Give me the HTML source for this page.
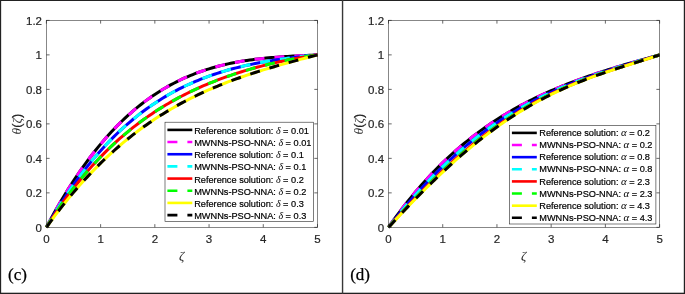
<!DOCTYPE html>
<html><head><meta charset="utf-8"><title>figure</title>
<style>
html,body{margin:0;padding:0;background:#fff;}
svg{display:block;}
.t{font-family:"Liberation Sans",sans-serif;font-size:11.5px;fill:#262626;stroke:#262626;stroke-width:0.2px;}
.l{font-family:"Liberation Sans",sans-serif;font-size:9.2px;fill:#000;stroke:#000;stroke-width:0.2px;}
.g{font-family:"Liberation Serif",serif;font-style:italic;stroke:none;}
.s{font-family:"Liberation Serif",serif;font-size:17px;fill:#000;stroke:#000;stroke-width:0.25px;}
</style></head><body>
<svg width="685" height="294" viewBox="0 0 685 294">
<rect x="0" y="0" width="685" height="294" fill="#ffffff"/>

<g fill="none" stroke-width="3.0" stroke-linejoin="round">
<path d="M46.40 227.35 L49.11 222.24 L51.82 217.23 L54.53 212.34 L57.24 207.54 L59.95 202.85 L62.67 198.27 L65.38 193.78 L68.09 189.40 L70.80 185.11 L73.51 180.92 L76.22 176.83 L78.93 172.83 L81.64 168.93 L84.35 165.12 L87.06 161.40 L89.78 157.77 L92.49 154.23 L95.20 150.77 L97.91 147.40 L100.62 144.12 L103.33 140.92 L106.04 137.81 L108.75 134.77 L111.46 131.81 L114.18 128.94 L116.89 126.14 L119.60 123.42 L122.31 120.77 L125.02 118.20 L127.73 115.70 L130.44 113.27 L133.15 110.91 L135.86 108.62 L138.57 106.40 L141.29 104.25 L144.00 102.16 L146.71 100.14 L149.42 98.18 L152.13 96.28 L154.84 94.44 L157.55 92.67 L160.26 90.95 L162.97 89.29 L165.68 87.69 L168.40 86.14 L171.11 84.64 L173.82 83.20 L176.53 81.82 L179.24 80.48 L181.95 79.19 L184.66 77.95 L187.37 76.76 L190.08 75.62 L192.79 74.52 L195.51 73.46 L198.22 72.45 L200.93 71.48 L203.64 70.55 L206.35 69.66 L209.06 68.82 L211.77 68.00 L214.48 67.23 L217.19 66.49 L219.90 65.78 L222.62 65.11 L225.33 64.48 L228.04 63.87 L230.75 63.29 L233.46 62.74 L236.17 62.23 L238.88 61.73 L241.59 61.27 L244.30 60.83 L247.01 60.41 L249.73 60.02 L252.44 59.65 L255.15 59.30 L257.86 58.98 L260.57 58.67 L263.28 58.38 L265.99 58.10 L268.70 57.84 L271.41 57.60 L274.12 57.37 L276.84 57.16 L279.55 56.96 L282.26 56.77 L284.97 56.59 L287.68 56.42 L290.39 56.25 L293.10 56.10 L295.81 55.95 L298.52 55.81 L301.23 55.67 L303.94 55.54 L306.66 55.41 L309.37 55.28 L312.08 55.15 L314.79 55.02 L317.50 54.89" stroke="#000000"/>
<path d="M46.40 227.35 L49.11 222.24 L51.82 217.23 L54.53 212.34 L57.24 207.54 L59.95 202.85 L62.67 198.27 L65.38 193.78 L68.09 189.40 L70.80 185.11 L73.51 180.92 L76.22 176.83 L78.93 172.83 L81.64 168.93 L84.35 165.12 L87.06 161.40 L89.78 157.77 L92.49 154.23 L95.20 150.77 L97.91 147.40 L100.62 144.12 L103.33 140.92 L106.04 137.81 L108.75 134.77 L111.46 131.81 L114.18 128.94 L116.89 126.14 L119.60 123.42 L122.31 120.77 L125.02 118.20 L127.73 115.70 L130.44 113.27 L133.15 110.91 L135.86 108.62 L138.57 106.40 L141.29 104.25 L144.00 102.16 L146.71 100.14 L149.42 98.18 L152.13 96.28 L154.84 94.44 L157.55 92.67 L160.26 90.95 L162.97 89.29 L165.68 87.69 L168.40 86.14 L171.11 84.64 L173.82 83.20 L176.53 81.82 L179.24 80.48 L181.95 79.19 L184.66 77.95 L187.37 76.76 L190.08 75.62 L192.79 74.52 L195.51 73.46 L198.22 72.45 L200.93 71.48 L203.64 70.55 L206.35 69.66 L209.06 68.82 L211.77 68.00 L214.48 67.23 L217.19 66.49 L219.90 65.78 L222.62 65.11 L225.33 64.48 L228.04 63.87 L230.75 63.29 L233.46 62.74 L236.17 62.23 L238.88 61.73 L241.59 61.27 L244.30 60.83 L247.01 60.41 L249.73 60.02 L252.44 59.65 L255.15 59.30 L257.86 58.98 L260.57 58.67 L263.28 58.38 L265.99 58.10 L268.70 57.84 L271.41 57.60 L274.12 57.37 L276.84 57.16 L279.55 56.96 L282.26 56.77 L284.97 56.59 L287.68 56.42 L290.39 56.25 L293.10 56.10 L295.81 55.95 L298.52 55.81 L301.23 55.67 L303.94 55.54 L306.66 55.41 L309.37 55.28 L312.08 55.15 L314.79 55.02 L317.50 54.89" stroke="#ff00ff" stroke-dasharray="10 10" stroke-dashoffset="0"/>
<path d="M46.40 227.35 L49.11 222.67 L51.82 218.09 L54.53 213.60 L57.24 209.21 L59.95 204.91 L62.67 200.70 L65.38 196.58 L68.09 192.55 L70.80 188.60 L73.51 184.75 L76.22 180.98 L78.93 177.29 L81.64 173.69 L84.35 170.16 L87.06 166.72 L89.78 163.35 L92.49 160.07 L95.20 156.86 L97.91 153.72 L100.62 150.66 L103.33 147.67 L106.04 144.75 L108.75 141.90 L111.46 139.13 L114.18 136.42 L116.89 133.77 L119.60 131.20 L122.31 128.68 L125.02 126.24 L127.73 123.85 L130.44 121.52 L133.15 119.26 L135.86 117.05 L138.57 114.91 L141.29 112.81 L144.00 110.78 L146.71 108.80 L149.42 106.87 L152.13 105.00 L154.84 103.18 L157.55 101.41 L160.26 99.69 L162.97 98.01 L165.68 96.39 L168.40 94.81 L171.11 93.28 L173.82 91.79 L176.53 90.35 L179.24 88.95 L181.95 87.59 L184.66 86.27 L187.37 84.99 L190.08 83.76 L192.79 82.56 L195.51 81.39 L198.22 80.27 L200.93 79.18 L203.64 78.12 L206.35 77.10 L209.06 76.11 L211.77 75.15 L214.48 74.23 L217.19 73.33 L219.90 72.47 L222.62 71.63 L225.33 70.83 L228.04 70.04 L230.75 69.29 L233.46 68.56 L236.17 67.86 L238.88 67.18 L241.59 66.52 L244.30 65.89 L247.01 65.28 L249.73 64.69 L252.44 64.12 L255.15 63.57 L257.86 63.04 L260.57 62.53 L263.28 62.03 L265.99 61.55 L268.70 61.09 L271.41 60.65 L274.12 60.22 L276.84 59.80 L279.55 59.40 L282.26 59.01 L284.97 58.64 L287.68 58.27 L290.39 57.92 L293.10 57.58 L295.81 57.24 L298.52 56.92 L301.23 56.61 L303.94 56.30 L306.66 56.01 L309.37 55.72 L312.08 55.44 L314.79 55.16 L317.50 54.89" stroke="#0000ff"/>
<path d="M46.40 227.35 L49.11 222.67 L51.82 218.09 L54.53 213.60 L57.24 209.21 L59.95 204.91 L62.67 200.70 L65.38 196.58 L68.09 192.55 L70.80 188.60 L73.51 184.75 L76.22 180.98 L78.93 177.29 L81.64 173.69 L84.35 170.16 L87.06 166.72 L89.78 163.35 L92.49 160.07 L95.20 156.86 L97.91 153.72 L100.62 150.66 L103.33 147.67 L106.04 144.75 L108.75 141.90 L111.46 139.13 L114.18 136.42 L116.89 133.77 L119.60 131.20 L122.31 128.68 L125.02 126.24 L127.73 123.85 L130.44 121.52 L133.15 119.26 L135.86 117.05 L138.57 114.91 L141.29 112.81 L144.00 110.78 L146.71 108.80 L149.42 106.87 L152.13 105.00 L154.84 103.18 L157.55 101.41 L160.26 99.69 L162.97 98.01 L165.68 96.39 L168.40 94.81 L171.11 93.28 L173.82 91.79 L176.53 90.35 L179.24 88.95 L181.95 87.59 L184.66 86.27 L187.37 84.99 L190.08 83.76 L192.79 82.56 L195.51 81.39 L198.22 80.27 L200.93 79.18 L203.64 78.12 L206.35 77.10 L209.06 76.11 L211.77 75.15 L214.48 74.23 L217.19 73.33 L219.90 72.47 L222.62 71.63 L225.33 70.83 L228.04 70.04 L230.75 69.29 L233.46 68.56 L236.17 67.86 L238.88 67.18 L241.59 66.52 L244.30 65.89 L247.01 65.28 L249.73 64.69 L252.44 64.12 L255.15 63.57 L257.86 63.04 L260.57 62.53 L263.28 62.03 L265.99 61.55 L268.70 61.09 L271.41 60.65 L274.12 60.22 L276.84 59.80 L279.55 59.40 L282.26 59.01 L284.97 58.64 L287.68 58.27 L290.39 57.92 L293.10 57.58 L295.81 57.24 L298.52 56.92 L301.23 56.61 L303.94 56.30 L306.66 56.01 L309.37 55.72 L312.08 55.44 L314.79 55.16 L317.50 54.89" stroke="#00ffff" stroke-dasharray="10 10" stroke-dashoffset="0"/>
<path d="M46.40 227.35 L49.11 223.06 L51.82 218.86 L54.53 214.75 L57.24 210.72 L59.95 206.78 L62.67 202.93 L65.38 199.15 L68.09 195.46 L70.80 191.84 L73.51 188.31 L76.22 184.84 L78.93 181.46 L81.64 178.15 L84.35 174.90 L87.06 171.74 L89.78 168.63 L92.49 165.60 L95.20 162.64 L97.91 159.74 L100.62 156.90 L103.33 154.13 L106.04 151.42 L108.75 148.77 L111.46 146.17 L114.18 143.64 L116.89 141.16 L119.60 138.74 L122.31 136.38 L125.02 134.06 L127.73 131.80 L130.44 129.59 L133.15 127.43 L135.86 125.32 L138.57 123.26 L141.29 121.25 L144.00 119.28 L146.71 117.35 L149.42 115.47 L152.13 113.64 L154.84 111.84 L157.55 110.09 L160.26 108.37 L162.97 106.70 L165.68 105.06 L168.40 103.46 L171.11 101.90 L173.82 100.38 L176.53 98.89 L179.24 97.43 L181.95 96.01 L184.66 94.62 L187.37 93.26 L190.08 91.93 L192.79 90.63 L195.51 89.37 L198.22 88.13 L200.93 86.92 L203.64 85.74 L206.35 84.58 L209.06 83.45 L211.77 82.35 L214.48 81.27 L217.19 80.22 L219.90 79.19 L222.62 78.19 L225.33 77.21 L228.04 76.25 L230.75 75.31 L233.46 74.40 L236.17 73.50 L238.88 72.63 L241.59 71.78 L244.30 70.94 L247.01 70.13 L249.73 69.34 L252.44 68.56 L255.15 67.80 L257.86 67.06 L260.57 66.34 L263.28 65.64 L265.99 64.95 L268.70 64.28 L271.41 63.62 L274.12 62.99 L276.84 62.37 L279.55 61.76 L282.26 61.17 L284.97 60.60 L287.68 60.04 L290.39 59.50 L293.10 58.97 L295.81 58.46 L298.52 57.96 L301.23 57.48 L303.94 57.01 L306.66 56.55 L309.37 56.12 L312.08 55.69 L314.79 55.29 L317.50 54.89" stroke="#ff0000"/>
<path d="M46.40 227.35 L49.11 223.06 L51.82 218.86 L54.53 214.75 L57.24 210.72 L59.95 206.78 L62.67 202.93 L65.38 199.15 L68.09 195.46 L70.80 191.84 L73.51 188.31 L76.22 184.84 L78.93 181.46 L81.64 178.15 L84.35 174.90 L87.06 171.74 L89.78 168.63 L92.49 165.60 L95.20 162.64 L97.91 159.74 L100.62 156.90 L103.33 154.13 L106.04 151.42 L108.75 148.77 L111.46 146.17 L114.18 143.64 L116.89 141.16 L119.60 138.74 L122.31 136.38 L125.02 134.06 L127.73 131.80 L130.44 129.59 L133.15 127.43 L135.86 125.32 L138.57 123.26 L141.29 121.25 L144.00 119.28 L146.71 117.35 L149.42 115.47 L152.13 113.64 L154.84 111.84 L157.55 110.09 L160.26 108.37 L162.97 106.70 L165.68 105.06 L168.40 103.46 L171.11 101.90 L173.82 100.38 L176.53 98.89 L179.24 97.43 L181.95 96.01 L184.66 94.62 L187.37 93.26 L190.08 91.93 L192.79 90.63 L195.51 89.37 L198.22 88.13 L200.93 86.92 L203.64 85.74 L206.35 84.58 L209.06 83.45 L211.77 82.35 L214.48 81.27 L217.19 80.22 L219.90 79.19 L222.62 78.19 L225.33 77.21 L228.04 76.25 L230.75 75.31 L233.46 74.40 L236.17 73.50 L238.88 72.63 L241.59 71.78 L244.30 70.94 L247.01 70.13 L249.73 69.34 L252.44 68.56 L255.15 67.80 L257.86 67.06 L260.57 66.34 L263.28 65.64 L265.99 64.95 L268.70 64.28 L271.41 63.62 L274.12 62.99 L276.84 62.37 L279.55 61.76 L282.26 61.17 L284.97 60.60 L287.68 60.04 L290.39 59.50 L293.10 58.97 L295.81 58.46 L298.52 57.96 L301.23 57.48 L303.94 57.01 L306.66 56.55 L309.37 56.12 L312.08 55.69 L314.79 55.29 L317.50 54.89" stroke="#00ff00" stroke-dasharray="10 10" stroke-dashoffset="0"/>
<path d="M46.40 227.35 L49.11 223.58 L51.82 219.87 L54.53 216.22 L57.24 212.64 L59.95 209.11 L62.67 205.65 L65.38 202.25 L68.09 198.91 L70.80 195.62 L73.51 192.40 L76.22 189.23 L78.93 186.12 L81.64 183.06 L84.35 180.06 L87.06 177.12 L89.78 174.22 L92.49 171.38 L95.20 168.60 L97.91 165.86 L100.62 163.18 L103.33 160.54 L106.04 157.96 L108.75 155.42 L111.46 152.94 L114.18 150.50 L116.89 148.10 L119.60 145.75 L122.31 143.45 L125.02 141.19 L127.73 138.98 L130.44 136.81 L133.15 134.68 L135.86 132.60 L138.57 130.55 L141.29 128.55 L144.00 126.59 L146.71 124.66 L149.42 122.78 L152.13 120.93 L154.84 119.12 L157.55 117.34 L160.26 115.61 L162.97 113.90 L165.68 112.24 L168.40 110.60 L171.11 109.00 L173.82 107.43 L176.53 105.90 L179.24 104.39 L181.95 102.92 L184.66 101.48 L187.37 100.06 L190.08 98.68 L192.79 97.32 L195.51 95.99 L198.22 94.69 L200.93 93.42 L203.64 92.17 L206.35 90.94 L209.06 89.74 L211.77 88.56 L214.48 87.41 L217.19 86.28 L219.90 85.17 L222.62 84.08 L225.33 83.02 L228.04 81.97 L230.75 80.94 L233.46 79.94 L236.17 78.95 L238.88 77.97 L241.59 77.02 L244.30 76.08 L247.01 75.16 L249.73 74.25 L252.44 73.36 L255.15 72.48 L257.86 71.62 L260.57 70.77 L263.28 69.93 L265.99 69.10 L268.70 68.29 L271.41 67.48 L274.12 66.69 L276.84 65.90 L279.55 65.13 L282.26 64.36 L284.97 63.60 L287.68 62.85 L290.39 62.10 L293.10 61.36 L295.81 60.63 L298.52 59.90 L301.23 59.17 L303.94 58.45 L306.66 57.74 L309.37 57.02 L312.08 56.31 L314.79 55.60 L317.50 54.89" stroke="#ffff00"/>
<path d="M46.40 227.35 L49.11 223.58 L51.82 219.87 L54.53 216.22 L57.24 212.64 L59.95 209.11 L62.67 205.65 L65.38 202.25 L68.09 198.91 L70.80 195.62 L73.51 192.40 L76.22 189.23 L78.93 186.12 L81.64 183.06 L84.35 180.06 L87.06 177.12 L89.78 174.22 L92.49 171.38 L95.20 168.60 L97.91 165.86 L100.62 163.18 L103.33 160.54 L106.04 157.96 L108.75 155.42 L111.46 152.94 L114.18 150.50 L116.89 148.10 L119.60 145.75 L122.31 143.45 L125.02 141.19 L127.73 138.98 L130.44 136.81 L133.15 134.68 L135.86 132.60 L138.57 130.55 L141.29 128.55 L144.00 126.59 L146.71 124.66 L149.42 122.78 L152.13 120.93 L154.84 119.12 L157.55 117.34 L160.26 115.61 L162.97 113.90 L165.68 112.24 L168.40 110.60 L171.11 109.00 L173.82 107.43 L176.53 105.90 L179.24 104.39 L181.95 102.92 L184.66 101.48 L187.37 100.06 L190.08 98.68 L192.79 97.32 L195.51 95.99 L198.22 94.69 L200.93 93.42 L203.64 92.17 L206.35 90.94 L209.06 89.74 L211.77 88.56 L214.48 87.41 L217.19 86.28 L219.90 85.17 L222.62 84.08 L225.33 83.02 L228.04 81.97 L230.75 80.94 L233.46 79.94 L236.17 78.95 L238.88 77.97 L241.59 77.02 L244.30 76.08 L247.01 75.16 L249.73 74.25 L252.44 73.36 L255.15 72.48 L257.86 71.62 L260.57 70.77 L263.28 69.93 L265.99 69.10 L268.70 68.29 L271.41 67.48 L274.12 66.69 L276.84 65.90 L279.55 65.13 L282.26 64.36 L284.97 63.60 L287.68 62.85 L290.39 62.10 L293.10 61.36 L295.81 60.63 L298.52 59.90 L301.23 59.17 L303.94 58.45 L306.66 57.74 L309.37 57.02 L312.08 56.31 L314.79 55.60 L317.50 54.89" stroke="#000000" stroke-dasharray="10 10" stroke-dashoffset="0"/>
</g>
<g stroke="#262626" stroke-width="0.7" fill="none">
<rect x="46.4" y="20.4" width="271.10" height="206.95" stroke-width="0.55"/>
<path d="M46.40 227.35 v-3.2 M46.40 20.4 v3.2"/>
<path d="M100.62 227.35 v-3.2 M100.62 20.4 v3.2"/>
<path d="M154.84 227.35 v-3.2 M154.84 20.4 v3.2"/>
<path d="M209.06 227.35 v-3.2 M209.06 20.4 v3.2"/>
<path d="M263.28 227.35 v-3.2 M263.28 20.4 v3.2"/>
<path d="M317.50 227.35 v-3.2 M317.50 20.4 v3.2"/>
<path d="M46.4 227.35 h3.2 M317.5 227.35 h-3.2"/>
<path d="M46.4 192.86 h3.2 M317.5 192.86 h-3.2"/>
<path d="M46.4 158.37 h3.2 M317.5 158.37 h-3.2"/>
<path d="M46.4 123.88 h3.2 M317.5 123.88 h-3.2"/>
<path d="M46.4 89.38 h3.2 M317.5 89.38 h-3.2"/>
<path d="M46.4 54.89 h3.2 M317.5 54.89 h-3.2"/>
<path d="M46.4 20.40 h3.2 M317.5 20.40 h-3.2"/>
</g>
<text class="t" x="46.40" y="242.8" text-anchor="middle">0</text>
<text class="t" x="100.62" y="242.8" text-anchor="middle">1</text>
<text class="t" x="154.84" y="242.8" text-anchor="middle">2</text>
<text class="t" x="209.06" y="242.8" text-anchor="middle">3</text>
<text class="t" x="263.28" y="242.8" text-anchor="middle">4</text>
<text class="t" x="317.50" y="242.8" text-anchor="middle">5</text>
<text class="t" x="42.00" y="231.55" text-anchor="end">0</text>
<text class="t" x="42.00" y="197.06" text-anchor="end">0.2</text>
<text class="t" x="42.00" y="162.57" text-anchor="end">0.4</text>
<text class="t" x="42.00" y="128.08" text-anchor="end">0.6</text>
<text class="t" x="42.00" y="93.58" text-anchor="end">0.8</text>
<text class="t" x="42.00" y="59.09" text-anchor="end">1</text>
<text class="t" x="42.00" y="24.60" text-anchor="end">1.2</text>
<text class="g" x="181.65" y="260.4" font-size="13" fill="#262626" text-anchor="middle">ζ</text>
<text class="t" transform="translate(21.20 124.08) rotate(-90)" text-anchor="middle" style="font-size:13px"><tspan class="g" font-size="13.5">θ</tspan>(<tspan class="g" font-size="13.5">ζ</tspan>)</text>
<g fill="none" stroke-width="3.0" stroke-linejoin="round">
<path d="M388.50 227.35 L391.21 223.48 L393.92 219.68 L396.63 215.96 L399.34 212.31 L402.06 208.73 L404.77 205.21 L407.48 201.77 L410.19 198.39 L412.90 195.08 L415.61 191.83 L418.32 188.65 L421.03 185.52 L423.74 182.46 L426.45 179.46 L429.17 176.52 L431.88 173.64 L434.59 170.82 L437.30 168.05 L440.01 165.34 L442.72 162.68 L445.43 160.07 L448.14 157.52 L450.85 155.02 L453.56 152.57 L456.27 150.17 L458.99 147.82 L461.70 145.51 L464.41 143.26 L467.12 141.04 L469.83 138.88 L472.54 136.76 L475.25 134.68 L477.96 132.64 L480.67 130.65 L483.38 128.69 L486.10 126.78 L488.81 124.90 L491.52 123.06 L494.23 121.26 L496.94 119.50 L499.65 117.77 L502.36 116.08 L505.07 114.42 L507.78 112.79 L510.50 111.20 L513.21 109.64 L515.92 108.11 L518.63 106.61 L521.34 105.14 L524.05 103.70 L526.76 102.28 L529.47 100.90 L532.18 99.54 L534.89 98.21 L537.61 96.90 L540.32 95.61 L543.03 94.36 L545.74 93.12 L548.45 91.91 L551.16 90.72 L553.87 89.55 L556.58 88.40 L559.29 87.27 L562.00 86.16 L564.72 85.07 L567.43 84.00 L570.14 82.94 L572.85 81.91 L575.56 80.89 L578.27 79.88 L580.98 78.90 L583.69 77.92 L586.40 76.96 L589.11 76.02 L591.83 75.09 L594.54 74.17 L597.25 73.27 L599.96 72.37 L602.67 71.49 L605.38 70.62 L608.09 69.76 L610.80 68.91 L613.51 68.07 L616.22 67.24 L618.94 66.42 L621.65 65.60 L624.36 64.80 L627.07 64.00 L629.78 63.21 L632.49 62.43 L635.20 61.65 L637.91 60.88 L640.62 60.11 L643.33 59.35 L646.05 58.60 L648.76 57.85 L651.47 57.10 L654.18 56.36 L656.89 55.63 L659.60 54.89" stroke="#000000"/>
<path d="M388.50 227.35 L391.21 223.48 L393.92 219.68 L396.63 215.96 L399.34 212.31 L402.06 208.73 L404.77 205.21 L407.48 201.77 L410.19 198.39 L412.90 195.08 L415.61 191.83 L418.32 188.65 L421.03 185.52 L423.74 182.46 L426.45 179.46 L429.17 176.52 L431.88 173.64 L434.59 170.82 L437.30 168.05 L440.01 165.34 L442.72 162.68 L445.43 160.07 L448.14 157.52 L450.85 155.02 L453.56 152.57 L456.27 150.17 L458.99 147.82 L461.70 145.51 L464.41 143.26 L467.12 141.04 L469.83 138.88 L472.54 136.76 L475.25 134.68 L477.96 132.64 L480.67 130.65 L483.38 128.69 L486.10 126.78 L488.81 124.90 L491.52 123.06 L494.23 121.26 L496.94 119.50 L499.65 117.77 L502.36 116.08 L505.07 114.42 L507.78 112.79 L510.50 111.20 L513.21 109.64 L515.92 108.11 L518.63 106.61 L521.34 105.14 L524.05 103.70 L526.76 102.28 L529.47 100.90 L532.18 99.54 L534.89 98.21 L537.61 96.90 L540.32 95.61 L543.03 94.36 L545.74 93.12 L548.45 91.91 L551.16 90.72 L553.87 89.55 L556.58 88.40 L559.29 87.27 L562.00 86.16 L564.72 85.07 L567.43 84.00 L570.14 82.94 L572.85 81.91 L575.56 80.89 L578.27 79.88 L580.98 78.90 L583.69 77.92 L586.40 76.96 L589.11 76.02 L591.83 75.09 L594.54 74.17 L597.25 73.27 L599.96 72.37 L602.67 71.49 L605.38 70.62 L608.09 69.76 L610.80 68.91 L613.51 68.07 L616.22 67.24 L618.94 66.42 L621.65 65.60 L624.36 64.80 L627.07 64.00 L629.78 63.21 L632.49 62.43 L635.20 61.65 L637.91 60.88 L640.62 60.11 L643.33 59.35 L646.05 58.60 L648.76 57.85 L651.47 57.10 L654.18 56.36 L656.89 55.63 L659.60 54.89" stroke="#ff00ff" stroke-dasharray="10 10" stroke-dashoffset="0"/>
<path d="M388.50 227.35 L391.21 223.88 L393.92 220.45 L396.63 217.07 L399.34 213.74 L402.06 210.46 L404.77 207.22 L407.48 204.03 L410.19 200.88 L412.90 197.78 L415.61 194.73 L418.32 191.72 L421.03 188.75 L423.74 185.84 L426.45 182.96 L429.17 180.13 L431.88 177.34 L434.59 174.60 L437.30 171.90 L440.01 169.24 L442.72 166.63 L445.43 164.05 L448.14 161.52 L450.85 159.03 L453.56 156.58 L456.27 154.17 L458.99 151.81 L461.70 149.48 L464.41 147.19 L467.12 144.94 L469.83 142.73 L472.54 140.56 L475.25 138.42 L477.96 136.33 L480.67 134.27 L483.38 132.25 L486.10 130.26 L488.81 128.31 L491.52 126.39 L494.23 124.52 L496.94 122.67 L499.65 120.86 L502.36 119.08 L505.07 117.34 L507.78 115.63 L510.50 113.95 L513.21 112.30 L515.92 110.68 L518.63 109.10 L521.34 107.54 L524.05 106.02 L526.76 104.52 L529.47 103.05 L532.18 101.61 L534.89 100.20 L537.61 98.82 L540.32 97.46 L543.03 96.13 L545.74 94.82 L548.45 93.54 L551.16 92.28 L553.87 91.05 L556.58 89.84 L559.29 88.65 L562.00 87.49 L564.72 86.34 L567.43 85.22 L570.14 84.12 L572.85 83.04 L575.56 81.97 L578.27 80.93 L580.98 79.90 L583.69 78.89 L586.40 77.90 L589.11 76.92 L591.83 75.96 L594.54 75.01 L597.25 74.08 L599.96 73.16 L602.67 72.25 L605.38 71.36 L608.09 70.47 L610.80 69.60 L613.51 68.74 L616.22 67.88 L618.94 67.04 L621.65 66.20 L624.36 65.37 L627.07 64.55 L629.78 63.73 L632.49 62.92 L635.20 62.11 L637.91 61.30 L640.62 60.50 L643.33 59.70 L646.05 58.90 L648.76 58.10 L651.47 57.30 L654.18 56.50 L656.89 55.70 L659.60 54.89" stroke="#0000ff"/>
<path d="M388.50 227.35 L391.21 223.88 L393.92 220.45 L396.63 217.07 L399.34 213.74 L402.06 210.46 L404.77 207.22 L407.48 204.03 L410.19 200.88 L412.90 197.78 L415.61 194.73 L418.32 191.72 L421.03 188.75 L423.74 185.84 L426.45 182.96 L429.17 180.13 L431.88 177.34 L434.59 174.60 L437.30 171.90 L440.01 169.24 L442.72 166.63 L445.43 164.05 L448.14 161.52 L450.85 159.03 L453.56 156.58 L456.27 154.17 L458.99 151.81 L461.70 149.48 L464.41 147.19 L467.12 144.94 L469.83 142.73 L472.54 140.56 L475.25 138.42 L477.96 136.33 L480.67 134.27 L483.38 132.25 L486.10 130.26 L488.81 128.31 L491.52 126.39 L494.23 124.52 L496.94 122.67 L499.65 120.86 L502.36 119.08 L505.07 117.34 L507.78 115.63 L510.50 113.95 L513.21 112.30 L515.92 110.68 L518.63 109.10 L521.34 107.54 L524.05 106.02 L526.76 104.52 L529.47 103.05 L532.18 101.61 L534.89 100.20 L537.61 98.82 L540.32 97.46 L543.03 96.13 L545.74 94.82 L548.45 93.54 L551.16 92.28 L553.87 91.05 L556.58 89.84 L559.29 88.65 L562.00 87.49 L564.72 86.34 L567.43 85.22 L570.14 84.12 L572.85 83.04 L575.56 81.97 L578.27 80.93 L580.98 79.90 L583.69 78.89 L586.40 77.90 L589.11 76.92 L591.83 75.96 L594.54 75.01 L597.25 74.08 L599.96 73.16 L602.67 72.25 L605.38 71.36 L608.09 70.47 L610.80 69.60 L613.51 68.74 L616.22 67.88 L618.94 67.04 L621.65 66.20 L624.36 65.37 L627.07 64.55 L629.78 63.73 L632.49 62.92 L635.20 62.11 L637.91 61.30 L640.62 60.50 L643.33 59.70 L646.05 58.90 L648.76 58.10 L651.47 57.30 L654.18 56.50 L656.89 55.70 L659.60 54.89" stroke="#00ffff" stroke-dasharray="10 10" stroke-dashoffset="0"/>
<path d="M388.50 227.35 L391.21 224.30 L393.92 221.27 L396.63 218.26 L399.34 215.27 L402.06 212.31 L404.77 209.37 L407.48 206.45 L410.19 203.55 L412.90 200.68 L415.61 197.83 L418.32 195.01 L421.03 192.22 L423.74 189.45 L426.45 186.71 L429.17 183.99 L431.88 181.31 L434.59 178.65 L437.30 176.02 L440.01 173.42 L442.72 170.86 L445.43 168.32 L448.14 165.81 L450.85 163.33 L453.56 160.88 L456.27 158.47 L458.99 156.08 L461.70 153.73 L464.41 151.41 L467.12 149.12 L469.83 146.86 L472.54 144.63 L475.25 142.44 L477.96 140.28 L480.67 138.15 L483.38 136.06 L486.10 133.99 L488.81 131.96 L491.52 129.96 L494.23 128.00 L496.94 126.07 L499.65 124.17 L502.36 122.30 L505.07 120.46 L507.78 118.66 L510.50 116.89 L513.21 115.15 L515.92 113.44 L518.63 111.76 L521.34 110.11 L524.05 108.50 L526.76 106.91 L529.47 105.36 L532.18 103.83 L534.89 102.34 L537.61 100.87 L540.32 99.43 L543.03 98.02 L545.74 96.64 L548.45 95.29 L551.16 93.96 L553.87 92.66 L556.58 91.38 L559.29 90.13 L562.00 88.91 L564.72 87.71 L567.43 86.53 L570.14 85.38 L572.85 84.25 L575.56 83.14 L578.27 82.05 L580.98 80.98 L583.69 79.93 L586.40 78.90 L589.11 77.89 L591.83 76.89 L594.54 75.92 L597.25 74.95 L599.96 74.01 L602.67 73.07 L605.38 72.15 L608.09 71.24 L610.80 70.34 L613.51 69.46 L616.22 68.58 L618.94 67.71 L621.65 66.84 L624.36 65.99 L627.07 65.14 L629.78 64.29 L632.49 63.44 L635.20 62.60 L637.91 61.76 L640.62 60.91 L643.33 60.07 L646.05 59.22 L648.76 58.37 L651.47 57.51 L654.18 56.65 L656.89 55.77 L659.60 54.89" stroke="#ff0000"/>
<path d="M388.50 227.35 L391.21 224.30 L393.92 221.27 L396.63 218.26 L399.34 215.27 L402.06 212.31 L404.77 209.37 L407.48 206.45 L410.19 203.55 L412.90 200.68 L415.61 197.83 L418.32 195.01 L421.03 192.22 L423.74 189.45 L426.45 186.71 L429.17 183.99 L431.88 181.31 L434.59 178.65 L437.30 176.02 L440.01 173.42 L442.72 170.86 L445.43 168.32 L448.14 165.81 L450.85 163.33 L453.56 160.88 L456.27 158.47 L458.99 156.08 L461.70 153.73 L464.41 151.41 L467.12 149.12 L469.83 146.86 L472.54 144.63 L475.25 142.44 L477.96 140.28 L480.67 138.15 L483.38 136.06 L486.10 133.99 L488.81 131.96 L491.52 129.96 L494.23 128.00 L496.94 126.07 L499.65 124.17 L502.36 122.30 L505.07 120.46 L507.78 118.66 L510.50 116.89 L513.21 115.15 L515.92 113.44 L518.63 111.76 L521.34 110.11 L524.05 108.50 L526.76 106.91 L529.47 105.36 L532.18 103.83 L534.89 102.34 L537.61 100.87 L540.32 99.43 L543.03 98.02 L545.74 96.64 L548.45 95.29 L551.16 93.96 L553.87 92.66 L556.58 91.38 L559.29 90.13 L562.00 88.91 L564.72 87.71 L567.43 86.53 L570.14 85.38 L572.85 84.25 L575.56 83.14 L578.27 82.05 L580.98 80.98 L583.69 79.93 L586.40 78.90 L589.11 77.89 L591.83 76.89 L594.54 75.92 L597.25 74.95 L599.96 74.01 L602.67 73.07 L605.38 72.15 L608.09 71.24 L610.80 70.34 L613.51 69.46 L616.22 68.58 L618.94 67.71 L621.65 66.84 L624.36 65.99 L627.07 65.14 L629.78 64.29 L632.49 63.44 L635.20 62.60 L637.91 61.76 L640.62 60.91 L643.33 60.07 L646.05 59.22 L648.76 58.37 L651.47 57.51 L654.18 56.65 L656.89 55.77 L659.60 54.89" stroke="#00ff00" stroke-dasharray="10 10" stroke-dashoffset="0"/>
<path d="M388.50 227.35 L391.21 224.42 L393.92 221.51 L396.63 218.61 L399.34 215.72 L402.06 212.84 L404.77 209.99 L407.48 207.14 L410.19 204.32 L412.90 201.51 L415.61 198.73 L418.32 195.96 L421.03 193.22 L423.74 190.49 L426.45 187.79 L429.17 185.11 L431.88 182.45 L434.59 179.82 L437.30 177.21 L440.01 174.63 L442.72 172.08 L445.43 169.55 L448.14 167.05 L450.85 164.57 L453.56 162.12 L456.27 159.70 L458.99 157.31 L461.70 154.95 L464.41 152.62 L467.12 150.32 L469.83 148.05 L472.54 145.81 L475.25 143.60 L477.96 141.42 L480.67 139.27 L483.38 137.16 L486.10 135.07 L488.81 133.02 L491.52 131.00 L494.23 129.01 L496.94 127.05 L499.65 125.12 L502.36 123.23 L505.07 121.37 L507.78 119.54 L510.50 117.74 L513.21 115.97 L515.92 114.23 L518.63 112.53 L521.34 110.86 L524.05 109.22 L526.76 107.61 L529.47 106.02 L532.18 104.47 L534.89 102.95 L537.61 101.46 L540.32 100.00 L543.03 98.57 L545.74 97.17 L548.45 95.79 L551.16 94.44 L553.87 93.12 L556.58 91.83 L559.29 90.56 L562.00 89.32 L564.72 88.10 L567.43 86.91 L570.14 85.74 L572.85 84.60 L575.56 83.47 L578.27 82.37 L580.98 81.29 L583.69 80.23 L586.40 79.19 L589.11 78.17 L591.83 77.16 L594.54 76.18 L597.25 75.21 L599.96 74.25 L602.67 73.31 L605.38 72.38 L608.09 71.46 L610.80 70.56 L613.51 69.66 L616.22 68.78 L618.94 67.90 L621.65 67.03 L624.36 66.16 L627.07 65.31 L629.78 64.45 L632.49 63.59 L635.20 62.74 L637.91 61.89 L640.62 61.03 L643.33 60.18 L646.05 59.31 L648.76 58.45 L651.47 57.57 L654.18 56.69 L656.89 55.80 L659.60 54.89" stroke="#ffff00"/>
<path d="M388.50 227.35 L391.21 224.42 L393.92 221.51 L396.63 218.61 L399.34 215.72 L402.06 212.84 L404.77 209.99 L407.48 207.14 L410.19 204.32 L412.90 201.51 L415.61 198.73 L418.32 195.96 L421.03 193.22 L423.74 190.49 L426.45 187.79 L429.17 185.11 L431.88 182.45 L434.59 179.82 L437.30 177.21 L440.01 174.63 L442.72 172.08 L445.43 169.55 L448.14 167.05 L450.85 164.57 L453.56 162.12 L456.27 159.70 L458.99 157.31 L461.70 154.95 L464.41 152.62 L467.12 150.32 L469.83 148.05 L472.54 145.81 L475.25 143.60 L477.96 141.42 L480.67 139.27 L483.38 137.16 L486.10 135.07 L488.81 133.02 L491.52 131.00 L494.23 129.01 L496.94 127.05 L499.65 125.12 L502.36 123.23 L505.07 121.37 L507.78 119.54 L510.50 117.74 L513.21 115.97 L515.92 114.23 L518.63 112.53 L521.34 110.86 L524.05 109.22 L526.76 107.61 L529.47 106.02 L532.18 104.47 L534.89 102.95 L537.61 101.46 L540.32 100.00 L543.03 98.57 L545.74 97.17 L548.45 95.79 L551.16 94.44 L553.87 93.12 L556.58 91.83 L559.29 90.56 L562.00 89.32 L564.72 88.10 L567.43 86.91 L570.14 85.74 L572.85 84.60 L575.56 83.47 L578.27 82.37 L580.98 81.29 L583.69 80.23 L586.40 79.19 L589.11 78.17 L591.83 77.16 L594.54 76.18 L597.25 75.21 L599.96 74.25 L602.67 73.31 L605.38 72.38 L608.09 71.46 L610.80 70.56 L613.51 69.66 L616.22 68.78 L618.94 67.90 L621.65 67.03 L624.36 66.16 L627.07 65.31 L629.78 64.45 L632.49 63.59 L635.20 62.74 L637.91 61.89 L640.62 61.03 L643.33 60.18 L646.05 59.31 L648.76 58.45 L651.47 57.57 L654.18 56.69 L656.89 55.80 L659.60 54.89" stroke="#000000" stroke-dasharray="10 10" stroke-dashoffset="0"/>
</g>
<g stroke="#262626" stroke-width="0.7" fill="none">
<rect x="388.5" y="20.4" width="271.10" height="206.95" stroke-width="0.55"/>
<path d="M388.50 227.35 v-3.2 M388.50 20.4 v3.2"/>
<path d="M442.72 227.35 v-3.2 M442.72 20.4 v3.2"/>
<path d="M496.94 227.35 v-3.2 M496.94 20.4 v3.2"/>
<path d="M551.16 227.35 v-3.2 M551.16 20.4 v3.2"/>
<path d="M605.38 227.35 v-3.2 M605.38 20.4 v3.2"/>
<path d="M659.60 227.35 v-3.2 M659.60 20.4 v3.2"/>
<path d="M388.5 227.35 h3.2 M659.6 227.35 h-3.2"/>
<path d="M388.5 192.86 h3.2 M659.6 192.86 h-3.2"/>
<path d="M388.5 158.37 h3.2 M659.6 158.37 h-3.2"/>
<path d="M388.5 123.88 h3.2 M659.6 123.88 h-3.2"/>
<path d="M388.5 89.38 h3.2 M659.6 89.38 h-3.2"/>
<path d="M388.5 54.89 h3.2 M659.6 54.89 h-3.2"/>
<path d="M388.5 20.40 h3.2 M659.6 20.40 h-3.2"/>
</g>
<text class="t" x="388.50" y="242.8" text-anchor="middle">0</text>
<text class="t" x="442.72" y="242.8" text-anchor="middle">1</text>
<text class="t" x="496.94" y="242.8" text-anchor="middle">2</text>
<text class="t" x="551.16" y="242.8" text-anchor="middle">3</text>
<text class="t" x="605.38" y="242.8" text-anchor="middle">4</text>
<text class="t" x="659.60" y="242.8" text-anchor="middle">5</text>
<text class="t" x="384.10" y="231.55" text-anchor="end">0</text>
<text class="t" x="384.10" y="197.06" text-anchor="end">0.2</text>
<text class="t" x="384.10" y="162.57" text-anchor="end">0.4</text>
<text class="t" x="384.10" y="128.08" text-anchor="end">0.6</text>
<text class="t" x="384.10" y="93.58" text-anchor="end">0.8</text>
<text class="t" x="384.10" y="59.09" text-anchor="end">1</text>
<text class="t" x="384.10" y="24.60" text-anchor="end">1.2</text>
<text class="g" x="523.75" y="260.4" font-size="13" fill="#262626" text-anchor="middle">ζ</text>
<text class="t" transform="translate(363.30 124.08) rotate(-90)" text-anchor="middle" style="font-size:13px"><tspan class="g" font-size="13.5">θ</tspan>(<tspan class="g" font-size="13.5">ζ</tspan>)</text>
<rect x="165.0" y="122.2" width="148.6" height="99.3" fill="#fff" stroke="#262626" stroke-width="0.6"/>
<path d="M167.40 129.90 H192.30" stroke="#000000" stroke-width="2.6" fill="none"/>
<text class="l" x="194.2" y="133.90">Reference solution: <tspan class="g" font-size="10">δ</tspan> = 0.01</text>
<path d="M167.40 142.07 H192.30" stroke="#ff00ff" stroke-width="2.6" fill="none" stroke-dasharray="10 10"/>
<text class="l" x="194.2" y="146.07">MWNNs-PSO-NNA: <tspan class="g" font-size="10">δ</tspan> = 0.01</text>
<path d="M167.40 154.24 H192.30" stroke="#0000ff" stroke-width="2.6" fill="none"/>
<text class="l" x="194.2" y="158.24">Reference solution: <tspan class="g" font-size="10">δ</tspan> = 0.1</text>
<path d="M167.40 166.41 H192.30" stroke="#00ffff" stroke-width="2.6" fill="none" stroke-dasharray="10 10"/>
<text class="l" x="194.2" y="170.41">MWNNs-PSO-NNA: <tspan class="g" font-size="10">δ</tspan> = 0.1</text>
<path d="M167.40 178.58 H192.30" stroke="#ff0000" stroke-width="2.6" fill="none"/>
<text class="l" x="194.2" y="182.58">Reference solution: <tspan class="g" font-size="10">δ</tspan> = 0.2</text>
<path d="M167.40 190.75 H192.30" stroke="#00ff00" stroke-width="2.6" fill="none" stroke-dasharray="10 10"/>
<text class="l" x="194.2" y="194.75">MWNNs-PSO-NNA: <tspan class="g" font-size="10">δ</tspan> = 0.2</text>
<path d="M167.40 202.92 H192.30" stroke="#ffff00" stroke-width="2.6" fill="none"/>
<text class="l" x="194.2" y="206.92">Reference solution: <tspan class="g" font-size="10">δ</tspan> = 0.3</text>
<path d="M167.40 215.09 H192.30" stroke="#000000" stroke-width="2.6" fill="none" stroke-dasharray="10 10"/>
<text class="l" x="194.2" y="219.09">MWNNs-PSO-NNA: <tspan class="g" font-size="10">δ</tspan> = 0.3</text>
<rect x="509.5" y="125.4" width="146.4" height="98.6" fill="#fff" stroke="#262626" stroke-width="0.6"/>
<path d="M511.90 132.90 H536.80" stroke="#000000" stroke-width="2.6" fill="none"/>
<text class="l" x="539.3" y="136.10">Reference solution: <tspan class="g" font-size="10.8">α</tspan> = 0.2</text>
<path d="M511.90 145.03 H536.80" stroke="#ff00ff" stroke-width="2.6" fill="none" stroke-dasharray="10 10"/>
<text class="l" x="539.3" y="148.23">MWNNs-PSO-NNA: <tspan class="g" font-size="10.8">α</tspan> = 0.2</text>
<path d="M511.90 157.16 H536.80" stroke="#0000ff" stroke-width="2.6" fill="none"/>
<text class="l" x="539.3" y="160.36">Reference solution: <tspan class="g" font-size="10.8">α</tspan> = 0.8</text>
<path d="M511.90 169.29 H536.80" stroke="#00ffff" stroke-width="2.6" fill="none" stroke-dasharray="10 10"/>
<text class="l" x="539.3" y="172.49">MWNNs-PSO-NNA: <tspan class="g" font-size="10.8">α</tspan> = 0.8</text>
<path d="M511.90 181.42 H536.80" stroke="#ff0000" stroke-width="2.6" fill="none"/>
<text class="l" x="539.3" y="184.62">Reference solution: <tspan class="g" font-size="10.8">α</tspan> = 2.3</text>
<path d="M511.90 193.55 H536.80" stroke="#00ff00" stroke-width="2.6" fill="none" stroke-dasharray="10 10"/>
<text class="l" x="539.3" y="196.75">MWNNs-PSO-NNA: <tspan class="g" font-size="10.8">α</tspan> = 2.3</text>
<path d="M511.90 205.68 H536.80" stroke="#ffff00" stroke-width="2.6" fill="none"/>
<text class="l" x="539.3" y="208.88">Reference solution: <tspan class="g" font-size="10.8">α</tspan> = 4.3</text>
<path d="M511.90 217.81 H536.80" stroke="#000000" stroke-width="2.6" fill="none" stroke-dasharray="10 10"/>
<text class="l" x="539.3" y="221.01">MWNNs-PSO-NNA: <tspan class="g" font-size="10.8">α</tspan> = 4.3</text>
<text class="s" x="8.0" y="279.8">(c)</text>
<text class="s" x="350.2" y="279.8">(d)</text>
<g fill="#222">
<rect x="0" y="0" width="685" height="1"/>
<rect x="0" y="0" width="1.15" height="294"/>
<rect x="0" y="292.7" width="685" height="1.3"/>
<rect x="683.8" y="0" width="1.2" height="294"/>
<rect x="341.85" y="0" width="1.4" height="294" fill="#383838"/>
</g>
</svg></body></html>
